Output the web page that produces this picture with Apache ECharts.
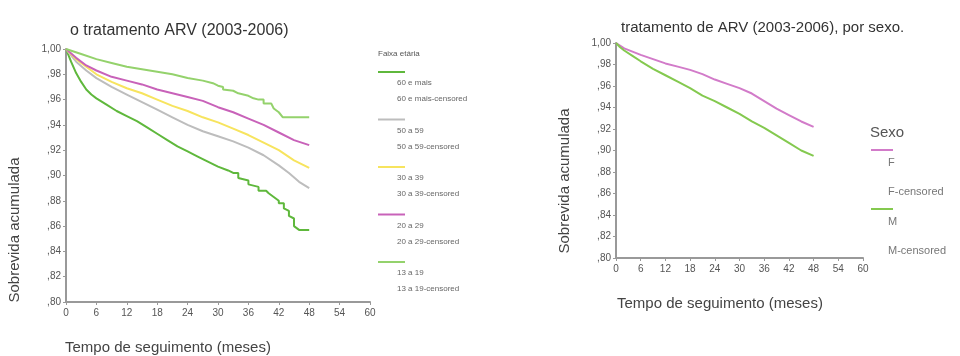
<!DOCTYPE html>
<html>
<head>
<meta charset="utf-8">
<script src="https://cdn.jsdelivr.net/npm/echarts@6/dist/echarts.min.js"></script>
<style>
  html, body { margin: 0; padding: 0; background: #fff; }
  #chart { width: 960px; height: 356px; }
</style>
</head>
<body>
<div id="chart"></div>
<script>
// x: meses de seguimento, y: sobrevida acumulada
const ageNames = ['60 e mais', '50 a 59', '30 a 39', '20 a 29', '13 a 19'];
const ageColors = ['#5fb83c', '#bdbdbd', '#f7e45e', '#c862b9', '#94d26c'];
const age60 = [[0,1],[1,0.99],[2,0.981],[3,0.974],[4,0.968],[5,0.964],[6,0.961],[8,0.956],[10,0.951],[12,0.947],[14,0.943],[16,0.938],[18,0.933],[20,0.928],[22,0.923],[24,0.919],[26,0.915],[28,0.911],[30,0.907],[32,0.904],[33,0.902],[34,0.902],[34,0.898],[36,0.896],[36,0.893],[38,0.891],[38,0.888],[39.5,0.888],[40,0.886],[41,0.883],[42,0.880],[42,0.878],[43,0.878],[43,0.874],[44,0.872],[44,0.868],[45,0.866],[45,0.860],[46,0.857],[48,0.857]];
const age50 = [[0,1],[2,0.990],[4,0.983],[6,0.977],[9,0.970],[12,0.964],[15,0.958],[18,0.952],[21,0.946],[24,0.940],[27,0.935],[30,0.931],[33,0.927],[36,0.922],[39,0.916],[42,0.908],[44,0.902],[46,0.895],[48,0.890]];
const age30 = [[0,1],[2,0.992],[4,0.986],[6,0.980],[9,0.974],[12,0.969],[15,0.965],[18,0.960],[21,0.955],[24,0.951],[27,0.946],[30,0.942],[33,0.937],[36,0.932],[39,0.926],[42,0.920],[45,0.912],[48,0.906]];
const age20 = [[0,1],[2,0.993],[4,0.987],[6,0.983],[9,0.978],[12,0.975],[15,0.972],[18,0.968],[21,0.965],[24,0.962],[27,0.959],[30,0.954],[33,0.950],[36,0.945],[39,0.940],[42,0.934],[45,0.928],[48,0.924]];
const age13 = [[0,1],[3,0.996],[6,0.992],[9,0.989],[12,0.986],[15,0.984],[18,0.982],[21,0.980],[24,0.977],[27,0.975],[29,0.973],[30,0.971],[31,0.970],[31,0.968],[33,0.967],[34,0.965],[36,0.963],[37,0.961],[38,0.960],[39,0.960],[39,0.957],[40.5,0.957],[41,0.953],[42,0.950],[42.8,0.946],[48,0.946]];
const sexNames = ['F', 'M'];
const sexColors = ['#d27bc9', '#84c94f'];
const sexF = [[0,1],[2,0.995],[4,0.992],[6,0.989],[9,0.985],[12,0.981],[15,0.978],[18,0.975],[21,0.971],[24,0.966],[27,0.962],[30,0.958],[33,0.953],[36,0.946],[39,0.939],[42,0.933],[45,0.927],[48,0.922]];
const sexM = [[0,1],[1,0.996],[2,0.993],[4,0.988],[6,0.983],[9,0.976],[12,0.970],[15,0.964],[18,0.958],[21,0.951],[24,0.946],[27,0.940],[30,0.934],[33,0.927],[36,0.921],[39,0.914],[42,0.907],[45,0.900],[48,0.895]];

const FONT = '"Liberation Sans", Arial, sans-serif';
const chart = echarts.init(document.getElementById('chart'));

const yFmt = v => {
    const n = Math.round(v * 100);
    return n === 100 ? '1,00' : ',' + String(n).padStart(2, '0');
};
const xAxisBase = (gridIndex) => ({
    type: 'value', gridIndex, min: 0, max: 60, interval: 6,
    axisLine: { lineStyle: { color: '#999', width: 2 } },
    axisTick: { show: true, length: 3, lineStyle: { color: '#999' } },
    axisLabel: { color: '#555', fontSize: 10, fontFamily: FONT, margin: 6 },
    splitLine: { show: false },
});
const yAxisBase = (gridIndex) => ({
    type: 'value', gridIndex, min: 0.8, max: 1.0, interval: 0.02,
    axisLine: { show: true, lineStyle: { color: '#999', width: 2 } },
    axisTick: { show: true, length: 3, lineStyle: { color: '#999' } },
    axisLabel: { color: '#555', fontSize: 10, fontFamily: FONT, margin: 5, formatter: yFmt },
    splitLine: { show: false },
});

const ageData = [age60, age50, age30, age20, age13];
const series = [];
ageData.forEach((d, i) => {
    series.push({
        name: ageNames[i], type: 'line', xAxisIndex: 0, yAxisIndex: 0,
        data: d, symbol: 'none', silent: true,
        lineStyle: { color: ageColors[i], width: 2 },
    });
});
[sexF, sexM].forEach((d, i) => {
    series.push({
        name: sexNames[i], type: 'line', xAxisIndex: 1, yAxisIndex: 1,
        data: d, symbol: 'none', silent: true,
        lineStyle: { color: sexColors[i], width: 2 },
    });
});

// legend drawn as graphics (line, then label below, then the "-censored" label)
const graphic = [];
graphic.push({ type: 'text', left: 378, top: 50, style: { text: 'Faixa etária', fontSize: 8, fill: '#555', fontFamily: FONT } });
ageNames.forEach((n, i) => {
    const y0 = 72 + i * 47.5;
    graphic.push({ type: 'rect', shape: { x: 378, y: y0 - 1, width: 27, height: 2 }, style: { fill: ageColors[i] } });
    graphic.push({ type: 'text', left: 397, top: y0 + 7, style: { text: n, fontSize: 8, fill: '#666', fontFamily: FONT } });
    graphic.push({ type: 'text', left: 397, top: y0 + 23, style: { text: n + '-censored', fontSize: 8, fill: '#666', fontFamily: FONT } });
});
graphic.push({ type: 'text', left: 870, top: 125, style: { text: 'Sexo', fontSize: 15, fill: '#555', fontFamily: FONT } });
sexNames.forEach((n, i) => {
    const y0 = 150 + i * 59;
    graphic.push({ type: 'rect', shape: { x: 871, y: y0 - 1, width: 22, height: 2 }, style: { fill: sexColors[i] } });
    graphic.push({ type: 'text', left: 888, top: y0 + 7, style: { text: n, fontSize: 11, fill: '#777', fontFamily: FONT } });
    graphic.push({ type: 'text', left: 888, top: y0 + 36, style: { text: n + '-censored', fontSize: 11, fill: '#777', fontFamily: FONT } });
});
// axis names
graphic.push({ type: 'text', left: 65, top: 340, style: { text: 'Tempo de seguimento (meses)', fontSize: 15, fill: '#444', fontFamily: FONT } });
graphic.push({ type: 'text', x: 15, y: 230, rotation: Math.PI / 2, style: { text: 'Sobrevida acumulada', fontSize: 15, fill: '#444', fontFamily: FONT, align: 'center', verticalAlign: 'middle' } });
graphic.push({ type: 'text', left: 617, top: 296, style: { text: 'Tempo de seguimento (meses)', fontSize: 15, fill: '#444', fontFamily: FONT } });
graphic.push({ type: 'text', x: 565, y: 181, rotation: Math.PI / 2, style: { text: 'Sobrevida acumulada', fontSize: 15, fill: '#444', fontFamily: FONT, align: 'center', verticalAlign: 'middle' } });

chart.setOption({
    animation: false,
    title: [
        { text: 'o tratamento ARV (2003-2006)', left: 65, top: 18, textStyle: { fontSize: 16, fontWeight: 'normal', color: '#333', fontFamily: FONT } },
        { text: 'tratamento de ARV (2003-2006), por sexo.', left: 616, top: 15, textStyle: { fontSize: 15, fontWeight: 'normal', color: '#333', fontFamily: FONT } },
    ],
    grid: [
        { left: 66, top: 49, width: 304, height: 253 },
        { left: 616, top: 43, width: 247, height: 215 },
    ],
    xAxis: [xAxisBase(0), xAxisBase(1)],
    yAxis: [yAxisBase(0), yAxisBase(1)],
    series,
    graphic,
});
</script>
</body>
</html>
